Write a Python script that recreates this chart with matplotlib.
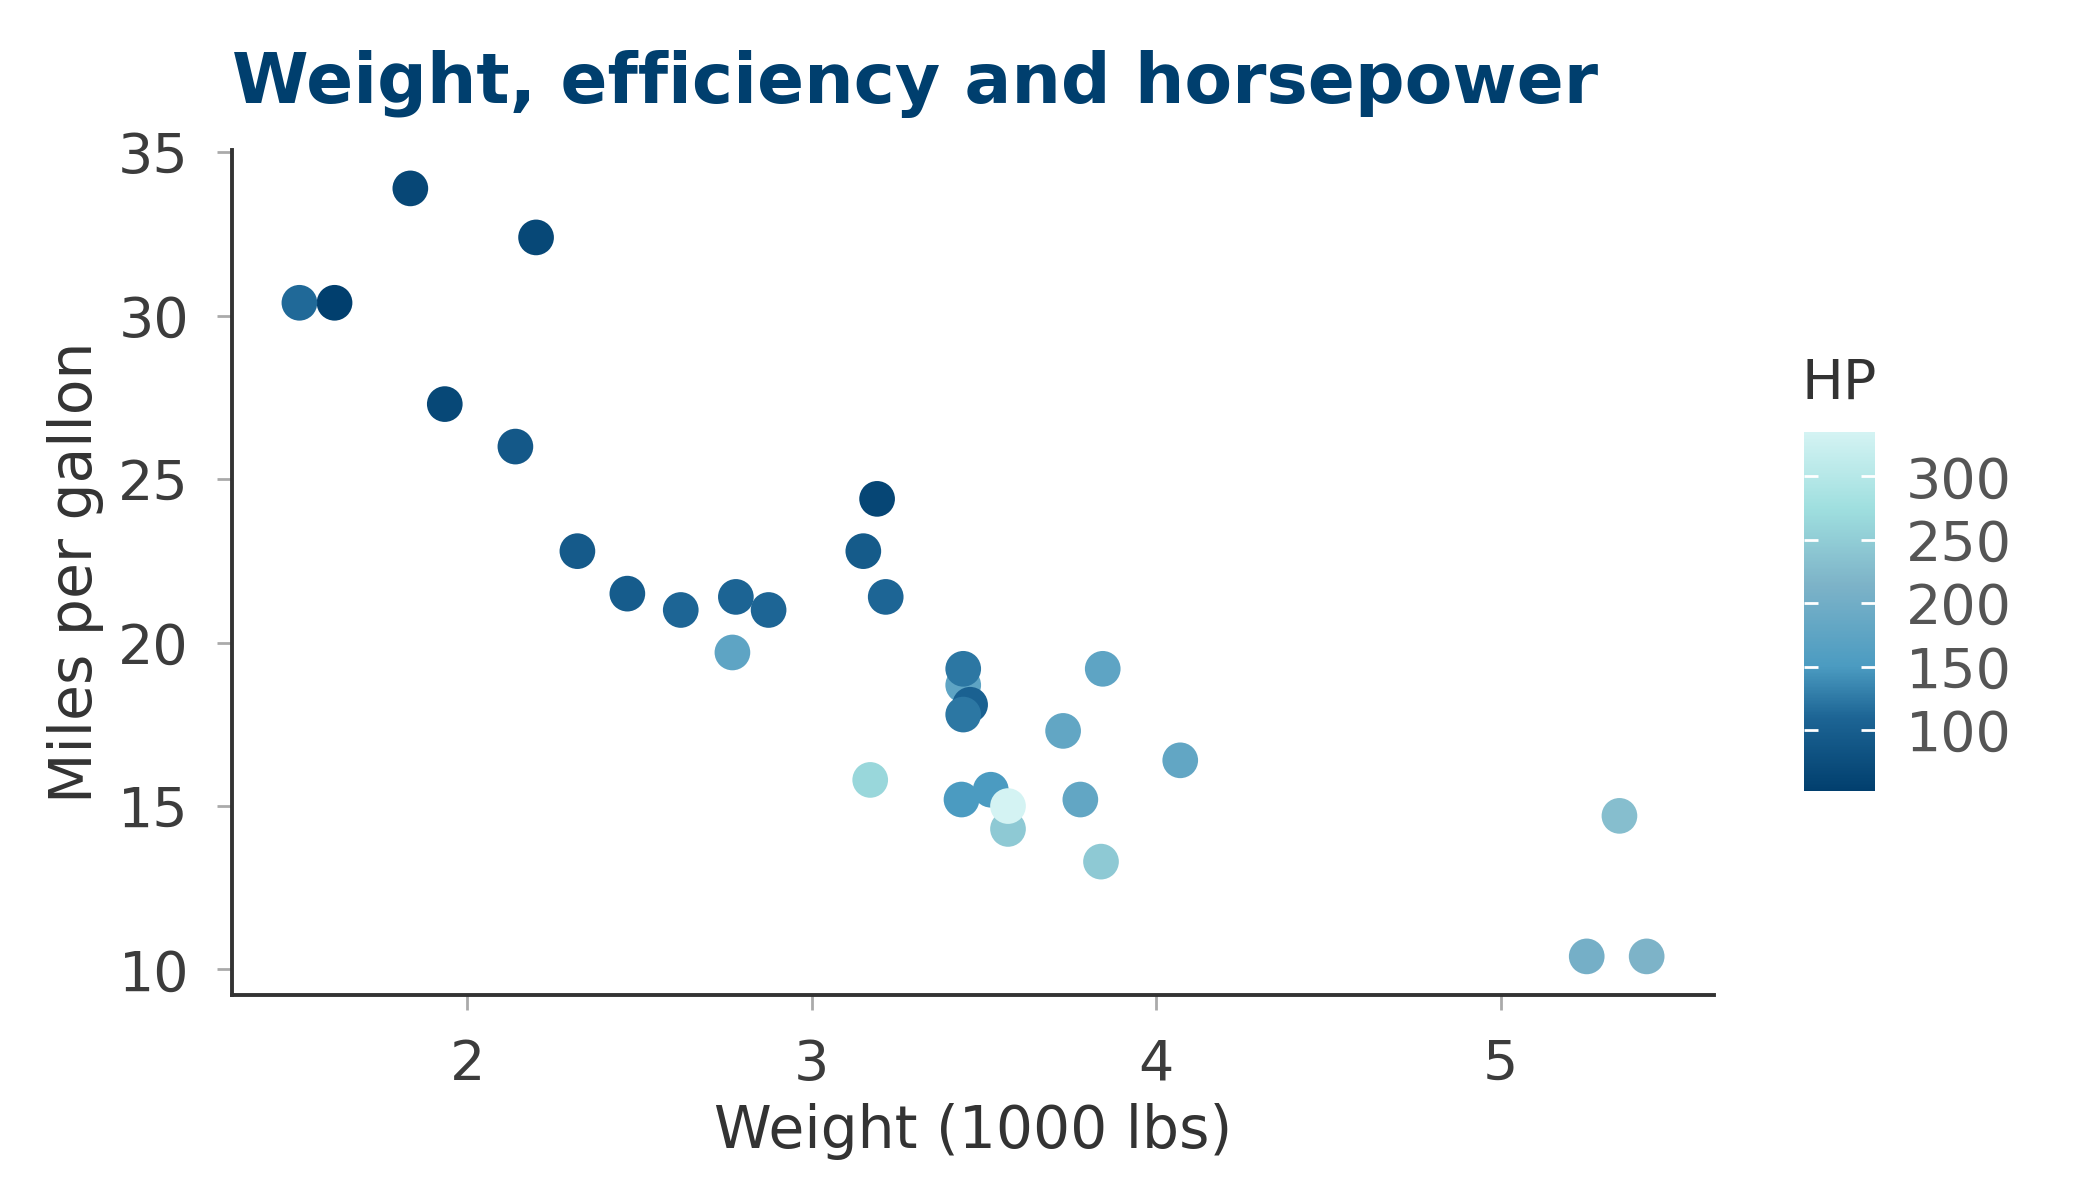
import matplotlib.pyplot as plt
from matplotlib.colors import LinearSegmentedColormap, Normalize

# ===============================
# Data (mtcars: weight, mpg, hp)
# ===============================
wt = [2.620, 2.875, 2.320, 3.215, 3.440, 3.460, 3.570, 3.190, 3.150, 3.440,
      3.440, 4.070, 3.730, 3.780, 5.250, 5.424, 5.345, 2.200, 1.615, 1.835,
      2.465, 3.520, 3.435, 3.840, 3.845, 1.935, 2.140, 1.513, 3.170, 2.770,
      3.570, 2.780]
mpg = [21.0, 21.0, 22.8, 21.4, 18.7, 18.1, 14.3, 24.4, 22.8, 19.2,
       17.8, 16.4, 17.3, 15.2, 10.4, 10.4, 14.7, 32.4, 30.4, 33.9,
       21.5, 15.5, 15.2, 13.3, 19.2, 27.3, 26.0, 30.4, 15.8, 19.7,
       15.0, 21.4]
hp = [110, 110, 93, 110, 175, 105, 245, 62, 95, 123,
      123, 180, 180, 180, 205, 215, 230, 66, 52, 65,
      97, 150, 150, 245, 175, 66, 91, 113, 264, 175,
      335, 109]

x_ticks = [2, 3, 4, 5]
y_ticks = [10, 15, 20, 25, 30, 35]
hp_ticks = [100, 150, 200, 250, 300]

# ===============================
# Colour map (dark navy -> pale cyan)
# ===============================
hp_min, hp_max = min(hp), max(hp)
stops = [(52, "#013f6e"), (110, "#1d6595"), (150, "#4b9bc1"),
         (215, "#7db3c8"), (275, "#9fdfdf"), (335, "#d4f3f3")]
cmap = LinearSegmentedColormap.from_list(
    "hp", [((v - 52) / (335 - 52), c) for v, c in stops])
norm = Normalize(vmin=hp_min, vmax=hp_max)

TXT = "#333333"
FS = 20

fig = plt.figure(figsize=(10.5, 6), dpi=200)
ax = fig.add_axes([0.1105, 0.171, 0.7057, 0.704])

sc = ax.scatter(wt, mpg, c=hp, cmap=cmap, norm=norm, s=165,
                edgecolors="none", zorder=3)

ax.set_xticks(x_ticks)
ax.set_yticks(y_ticks)
ax.margins(0.05)

for side in ["top", "right"]:
    ax.spines[side].set_visible(False)
for side in ["left", "bottom"]:
    ax.spines[side].set_color(TXT)
    ax.spines[side].set_linewidth(1.4)

ax.tick_params(axis="both", colors="#aaaaaa", length=5.5, width=1,
               labelsize=FS, labelcolor="#3c3c3c", pad=10)

ax.set_xlabel("Weight (1000 lbs)", fontsize=21, color=TXT, labelpad=4)
ax.set_ylabel("Miles per gallon", fontsize=21, color=TXT, labelpad=5)
ax.set_title("Weight, efficiency and horsepower", loc="left",
             fontsize=25, fontweight="bold", color="#003f6e", pad=17)

# ===============================
# Colour bar
# ===============================
cax = fig.add_axes([0.859, 0.341, 0.034, 0.299])
cb = fig.colorbar(sc, cax=cax, ticks=hp_ticks)
cb.outline.set_visible(False)
cax.tick_params(direction="in", colors="white", length=5, width=1,
                left=True, right=True, labelsize=FS, labelcolor="#555555",
                pad=11)
fig.text(0.858, 1 - 399 / 1200, "HP", fontsize=FS, color=TXT,
         ha="left", va="baseline")

fig.savefig("out.png", dpi=200)
